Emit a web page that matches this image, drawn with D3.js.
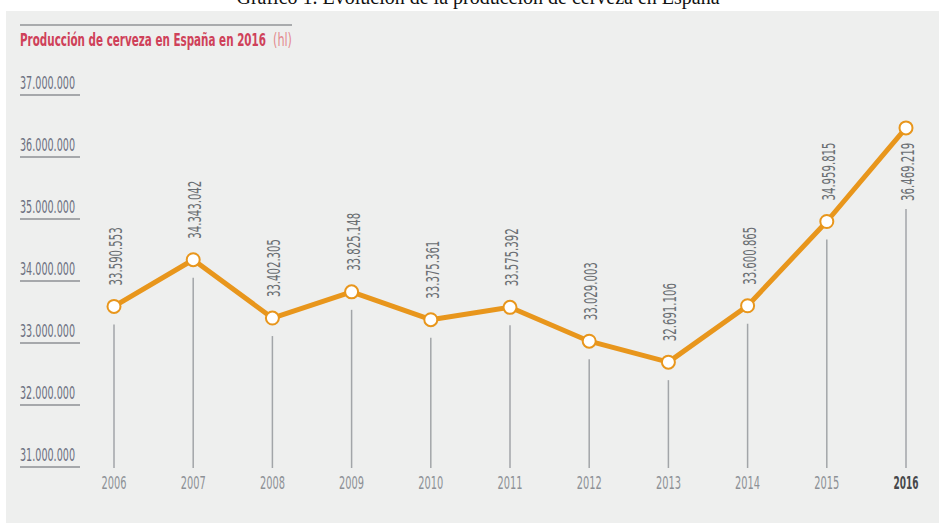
<!DOCTYPE html>
<html>
<head>
<meta charset="utf-8">
<script src="https://cdn.jsdelivr.net/npm/d3@7"></script>
<style>
  html, body { margin: 0; padding: 0; background: #fff; }
  svg { display: block; }
  .cond { font-family: "Liberation Sans Narrow", "DejaVu Sans Condensed", "Roboto", sans-serif; }
</style>
</head>
<body>
<div id="chart"></div>
<script>
const years = ["2006", "2007", "2008", "2009", "2010", "2011", "2012", "2013", "2014", "2015", "2016"];
const production = [33590553, 34343042, 33402305, 33825148, 33375361, 33575392, 33029003, 32691106, 33600865, 34959815, 36469219];
const yTicks = [31000000, 32000000, 33000000, 34000000, 35000000, 36000000, 37000000];

const width = 939, height = 523;
const es = d3.formatLocale({decimal: ",", thousands: ".", grouping: [3], currency: ["", " €"]});
const fmt = es.format(",d");

const svg = d3.select("#chart").append("svg")
    .attr("width", width)
    .attr("height", height);

// caption above the panel (cut off at the top, as in the original)
svg.append("text")
    .attr("x", 478)
    .attr("y", 4)
    .attr("text-anchor", "middle")
    .attr("font-family", "Liberation Serif, Times New Roman, serif")
    .attr("font-size", 20)
    .attr("fill", "#111")
    .text("Gráfico 1. Evolución de la producción de cerveza en España");

// gray panel
svg.append("rect")
    .attr("x", 6).attr("y", 11)
    .attr("width", width - 6).attr("height", height - 11)
    .attr("fill", "#eeefee");

svg.append("line")
    .attr("x1", 20).attr("x2", 292)
    .attr("y1", 25).attr("y2", 25)
    .attr("stroke", "#a9abad").attr("stroke-width", 2);

svg.append("text")
    .attr("class", "cond")
    .attr("x", 20).attr("y", 46)
    .attr("font-size", 17)
    .attr("font-weight", "bold")
    .attr("fill", "#cf4159")
    .attr("textLength", 246)
    .attr("lengthAdjust", "spacingAndGlyphs")
    .text("Producción de cerveza en España en 2016");
svg.append("text")
    .attr("class", "cond")
    .attr("x", 273).attr("y", 46)
    .attr("font-size", 17)
    .attr("fill", "#e48a8f")
    .attr("textLength", 19)
    .attr("lengthAdjust", "spacingAndGlyphs")
    .text("(hl)");

const x = d3.scalePoint().domain(years).range([114, 906]);
const y = d3.scaleLinear().domain([31000000, 37000000]).range([467, 95]);

// y ticks: label over a short rule
const tick = svg.append("g").selectAll("g")
    .data(yTicks)
    .join("g")
    .attr("transform", d => `translate(0,${y(d)})`);
tick.append("line")
    .attr("x1", 20).attr("x2", 80)
    .attr("stroke", "#8e9194").attr("stroke-width", 1.5);
tick.append("text")
    .attr("class", "cond")
    .attr("x", 20).attr("y", -6)
    .attr("font-size", 17)
    .attr("fill", "#6c7080")
    .attr("textLength", 55)
    .attr("lengthAdjust", "spacingAndGlyphs")
    .text(d => fmt(d));

const data = years.map((yr, i) => ({year: yr, value: production[i], last: i === years.length - 1}));

// drop lines
svg.append("g").selectAll("line")
    .data(data)
    .join("line")
    .attr("x1", d => x(d.year)).attr("x2", d => x(d.year))
    .attr("y1", d => y(d.value) + (d.last ? 81 : 18))
    .attr("y2", 468)
    .attr("stroke", "#a2a5a8").attr("stroke-width", 1.5);

// year labels
svg.append("g").selectAll("text")
    .data(data)
    .join("text")
    .attr("class", "cond")
    .attr("x", d => x(d.year)).attr("y", 489)
    .attr("text-anchor", "middle")
    .attr("font-size", 17)
    .attr("font-weight", d => d.last ? "bold" : "normal")
    .attr("fill", d => d.last ? "#45474a" : "#8d9196")
    .attr("textLength", 25)
    .attr("lengthAdjust", "spacingAndGlyphs")
    .text(d => d.year);

// line
svg.append("path")
    .datum(data)
    .attr("fill", "none")
    .attr("stroke", "#e8961c")
    .attr("stroke-width", 5)
    .attr("stroke-linejoin", "round")
    .attr("d", d3.line().x(d => x(d.year)).y(d => y(d.value)));

svg.append("g").selectAll("circle")
    .data(data)
    .join("circle")
    .attr("cx", d => x(d.year)).attr("cy", d => y(d.value))
    .attr("r", 6.5)
    .attr("fill", "#fff")
    .attr("stroke", "#e8961c").attr("stroke-width", 2);

// value labels, rotated
svg.append("g").selectAll("text")
    .data(data)
    .join("text")
    .attr("class", "cond")
    .attr("transform", d => `translate(${x(d.year) + 8},${d.last ? y(d.value) + 15 : y(d.value) - 21}) rotate(-90)`)
    .attr("text-anchor", d => d.last ? "end" : "start")
    .attr("font-size", 17)
    .attr("fill", "#6a6e72")
    .attr("textLength", 58)
    .attr("lengthAdjust", "spacingAndGlyphs")
    .text(d => fmt(d.value));
</script>
</body>
</html>
